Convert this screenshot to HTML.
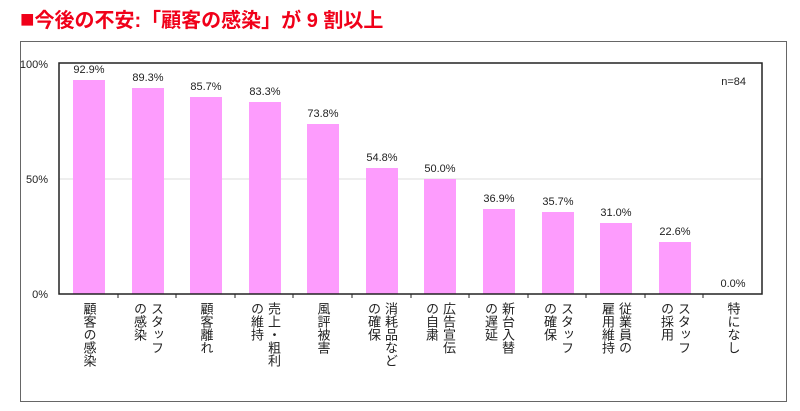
<!DOCTYPE html>
<html><head><meta charset="utf-8"><style>
body{margin:0;width:800px;height:411px;background:#fff;position:relative;overflow:hidden;font-family:"Liberation Sans","Noto Sans CJK JP",sans-serif}
.t{position:absolute;left:20px;top:4px;font-size:20px;font-weight:bold;color:#f00019;white-space:nowrap}
.t span{font-size:24px;line-height:20px}
.box{position:absolute;left:20px;top:41px;width:767px;height:361px;border:1px solid #666;box-sizing:border-box}
.lbl{position:absolute;top:302px;writing-mode:vertical-rl;font-size:13px;line-height:17px;color:#222;letter-spacing:0px;transform:translateX(-50%)}
</style></head><body>
<div class="t"><span>■</span>今後の不安:「顧客の感染」が 9 割以上</div>
<div class="box"></div>
<svg width="800" height="411" style="position:absolute;left:0;top:0" font-family="Liberation Sans, sans-serif">
<line x1="59" y1="179" x2="762" y2="179" stroke="#ddd" stroke-width="1"/>
<g fill="#fd9cfd">
<rect x="73" y="80" width="32" height="214"/>
<rect x="132" y="88" width="32" height="206"/>
<rect x="190" y="97" width="32" height="197"/>
<rect x="249" y="102" width="32" height="192"/>
<rect x="307" y="124" width="32" height="170"/>
<rect x="366" y="168" width="32" height="126"/>
<rect x="424" y="179" width="32" height="115"/>
<rect x="483" y="209" width="32" height="85"/>
<rect x="542" y="212" width="32" height="82"/>
<rect x="600" y="223" width="32" height="71"/>
<rect x="659" y="242" width="32" height="52"/>
</g>
<g font-size="11" text-anchor="middle" fill="#222">
<text x="89" y="73">92.9%</text><text x="148" y="81">89.3%</text><text x="206" y="90">85.7%</text><text x="265" y="95">83.3%</text><text x="323" y="117">73.8%</text><text x="382" y="161">54.8%</text><text x="440" y="172">50.0%</text><text x="499" y="202">36.9%</text><text x="558" y="205">35.7%</text><text x="616" y="216">31.0%</text><text x="675" y="235">22.6%</text><text x="733" y="287">0.0%</text>
<text x="746" y="85" text-anchor="end">n=84</text>
<text x="48" y="68" text-anchor="end">100%</text><text x="48" y="183" text-anchor="end">50%</text><text x="48" y="298" text-anchor="end">0%</text>
</g>
<rect x="59" y="63" width="703" height="231" fill="none" stroke="#222" stroke-width="1.5"/>
<g stroke="#222"><line x1="118" y1="294" x2="118" y2="298"/><line x1="176" y1="294" x2="176" y2="298"/><line x1="235" y1="294" x2="235" y2="298"/><line x1="293" y1="294" x2="293" y2="298"/><line x1="352" y1="294" x2="352" y2="298"/><line x1="411" y1="294" x2="411" y2="298"/><line x1="469" y1="294" x2="469" y2="298"/><line x1="528" y1="294" x2="528" y2="298"/><line x1="586" y1="294" x2="586" y2="298"/><line x1="645" y1="294" x2="645" y2="298"/><line x1="703" y1="294" x2="703" y2="298"/></g>
</svg>
<div class="lbl" style="left:89px">顧客の感染</div>
<div class="lbl" style="left:148px">スタッフ<br>の感染</div>
<div class="lbl" style="left:206px">顧客離れ</div>
<div class="lbl" style="left:265px">売上・粗利<br>の維持</div>
<div class="lbl" style="left:323px">風評被害</div>
<div class="lbl" style="left:382px">消耗品など<br>の確保</div>
<div class="lbl" style="left:440px">広告宣伝<br>の自粛</div>
<div class="lbl" style="left:499px">新台入替<br>の遅延</div>
<div class="lbl" style="left:558px">スタッフ<br>の確保</div>
<div class="lbl" style="left:616px">従業員の<br>雇用維持</div>
<div class="lbl" style="left:675px">スタッフ<br>の採用</div>
<div class="lbl" style="left:733px">特になし</div>
</body></html>
